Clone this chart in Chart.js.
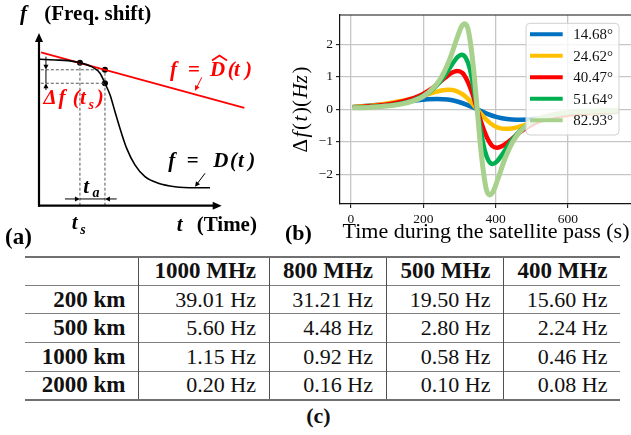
<!DOCTYPE html>
<html>
<head>
<meta charset="utf-8">
<script src="https://cdn.jsdelivr.net/npm/chart.js@4.4.1/dist/chart.umd.min.js"></script>
<style>
  html, body { margin: 0; padding: 0; background: #fff; }
  body { width: 631px; height: 435px; position: relative; overflow: hidden; font-family: "Liberation Serif", serif; color: #111; }
  #cvA { position: absolute; left: 0; top: 0; }
  #cvB { position: absolute; left: 280px; top: 0; }
  #tabla { position: absolute; left: 25px; top: 255.5px; width: 595px; border-collapse: collapse; table-layout: fixed; }
  #tabla td, #tabla th { height: 28.7px; padding: 0 12.5px 0 0; box-sizing: border-box; text-align: right; vertical-align: middle;
    font-size: 22px; line-height: 22px; white-space: nowrap; font-weight: normal; }
  #tabla th { font-weight: bold; font-size: 23px; }
  #tabla tr { border-bottom: 1.3px solid #808080; }
  #tabla tr:first-child { border-top: 2px solid #707070; }
  #tabla tr:last-child { border-bottom: 2px solid #707070; }
  #tabla tr > *:not(:first-child) { border-left: 1.3px solid #505050; }
  #etiquetaC { position: absolute; left: 0; width: 637px; top: 404.5px; text-align: center; font-weight: bold; font-size: 22px; line-height: 22px; }
</style>
</head>
<body>
<canvas id="cvA" width="280" height="250"></canvas>
<canvas id="cvB" width="360" height="250"></canvas>
<table id="tabla">
  <colgroup><col style="width:113.5px"><col style="width:130.5px"><col style="width:117px"><col style="width:117.5px"><col style="width:116.5px"></colgroup>
  <tbody id="cuerpo"></tbody>
</table>
<div id="etiquetaC">(c)</div>

<script>
// ===== Panel (a): curva D(t) y su aproximación lineal D̂(t) =====
const curvaT = [0.05, 0.88, 1.60, 2.24, 2.88, 3.34, 3.61, 3.89, 4.16, 4.49, 4.80, 5.25, 5.80, 6.53, 7.44, 8.54, 9.36];
const curvaF = [8.48, 8.44, 8.40, 8.28, 8.05, 7.67, 7.09, 6.41, 5.44, 4.28, 3.32, 2.36, 1.68, 1.30, 1.10, 1.04, 1.04];
const rectaT = [0.11, 11.24];
const rectaF = [8.88, 5.67];
// t_s, t_s + t_a  (puntos marcados)
const marcasT = [2.24, 3.61, 3.61];
const marcasF = [8.28, 7.87, 7.09];

// ===== Panel (b): Δf(t) durante el paso del satélite =====
const elevaciones = ['14.68°', '24.62°', '40.47°', '51.64°', '82.93°'];

const t1468 = [5, 107, 173, 211, 239, 267, 294, 321, 349, 377, 404, 431, 459, 487, 525, 591, 679, 740];
const df1468 = [0.07, 0.17, 0.265, 0.31, 0.32, 0.30, 0.24, 0.14, 0, -0.14, -0.24, -0.30, -0.32, -0.31, -0.265, -0.18, -0.107, -0.075];

const t2462 = [5, 60, 112, 175, 223, 250, 270, 290, 310, 329, 349, 369, 388, 408, 428, 448, 475, 523, 586, 640, 700, 740];
const df2462 = [0.07, 0.12, 0.20, 0.34, 0.50, 0.58, 0.60, 0.57, 0.45, 0.26, 0, -0.26, -0.45, -0.57, -0.60, -0.58, -0.50, -0.34, -0.20, -0.13, -0.083, -0.063];

const t4047 = [5, 70, 130, 184, 228, 261, 280, 294, 308, 321, 335, 349, 363, 377, 390, 404, 418, 437, 470, 514, 570, 630, 690, 740];
const df4047 = [0.06, 0.11, 0.21, 0.39, 0.68, 0.98, 1.13, 1.18, 1.12, 0.89, 0.50, 0, -0.50, -0.89, -1.12, -1.18, -1.13, -0.98, -0.68, -0.39, -0.21, -0.115, -0.068, -0.047];

const t5164 = [5, 60, 120, 170, 220, 254, 280, 295, 306, 317, 328, 338, 349, 360, 370, 381, 392, 403, 418, 444, 478, 530, 580, 640, 700, 740];
const df5164 = [0.05, 0.08, 0.145, 0.27, 0.56, 0.96, 1.39, 1.61, 1.68, 1.59, 1.27, 0.72, 0, -0.72, -1.27, -1.59, -1.68, -1.61, -1.39, -0.96, -0.56, -0.26, -0.145, -0.077, -0.045, -0.033];

const t8293 = [5, 50, 100, 150, 200, 244, 272, 293, 305, 314, 323, 331, 340, 349, 358, 367, 375, 384, 393, 405, 426, 454, 500, 550, 600, 650, 700, 740];
const df8293 = [0.045, 0.06, 0.10, 0.19, 0.40, 0.88, 1.51, 2.18, 2.53, 2.63, 2.49, 1.99, 1.12, 0, -1.12, -1.99, -2.49, -2.63, -2.53, -2.18, -1.51, -0.88, -0.38, -0.19, -0.10, -0.06, -0.04, -0.03];

const ticksTiempo = [0, 200, 400, 600];
const ticksDelta = [-2, -1, 0, 1, 2];

// ===== Panel (c): tabla de desplazamientos =====
const frecuencias = ['1000 MHz', '800 MHz', '500 MHz', '400 MHz'];
const altitudes = ['200 km', '500 km', '1000 km', '2000 km'];
const dopplerHz = [
  [39.01, 31.21, 19.50, 15.60],
  [5.60, 4.48, 2.80, 2.24],
  [1.15, 0.92, 0.58, 0.46],
  [0.20, 0.16, 0.10, 0.08]
];

const colores = ['#0070c0', '#ffc000', '#ff0000', '#00b050', '#a9d18e'];
const SERIF = '"Liberation Serif", serif';

// 📋 Tabla
(function armarTabla() {
  const cuerpo = document.getElementById('cuerpo');
  let html = '<tr><th></th>' + frecuencias.map(f => `<th>${f}</th>`).join('') + '</tr>';
  altitudes.forEach((alt, i) => {
    html += `<tr><th>${alt}</th>` + dopplerHz[i].map(v => `<td>${v.toFixed(2)} Hz</td>`).join('') + '</tr>';
  });
  cuerpo.innerHTML = html;
})();

// 🏹 Flecha con punta rellena
function flecha(ctx, x1, y1, x2, y2, largo, ancho, grosor, color) {
  const a = Math.atan2(y2 - y1, x2 - x1);
  const c = Math.cos(a), s = Math.sin(a);
  ctx.strokeStyle = color;
  ctx.fillStyle = color;
  ctx.lineWidth = grosor;
  ctx.beginPath();
  ctx.moveTo(x1, y1);
  ctx.lineTo(x2 - c * largo * 0.7, y2 - s * largo * 0.7);
  ctx.stroke();
  ctx.beginPath();
  ctx.moveTo(x2, y2);
  ctx.lineTo(x2 - c * largo - s * ancho, y2 - s * largo + c * ancho);
  ctx.lineTo(x2 - c * largo + s * ancho, y2 - s * largo - c * ancho);
  ctx.closePath();
  ctx.fill();
}

function texto(ctx, s, x, y, fuente, color) {
  ctx.font = fuente;
  ctx.fillStyle = color;
  ctx.fillText(s, x, y);
}

// ✏️ Ejes, flechas y rótulos del esquema (a)
const esquemaA = {
  id: 'esquemaA',
  afterDatasetsDraw(chart) {
    const ctx = chart.ctx;
    const X = v => chart.scales.x.getPixelForValue(v);
    const Y = v => chart.scales.y.getPixelForValue(v);
    const MAT = `bold italic 21px ${SERIF}`;
    const SUB = `bold italic 14px ${SERIF}`;
    const NEG = `bold 21px ${SERIF}`;
    const rojo = '#ff0000';
    ctx.save();
    ctx.textBaseline = 'alphabetic';
    ctx.textAlign = 'left';

    // ejes
    flecha(ctx, X(0), Y(0) + 1, X(0), Y(10), 9, 4, 2.2, '#000');
    flecha(ctx, X(0) - 1, Y(0), X(10), Y(0), 9, 4, 2.2, '#000');

    // Δf entre D̂ y D en t_s + t_a
    ctx.beginPath();
    ctx.strokeStyle = '#000';
    ctx.lineWidth = 1;
    ctx.moveTo(X(0.38), Y(marcasF[1]));
    ctx.lineTo(X(0.38), Y(marcasF[2]));
    ctx.stroke();
    flecha(ctx, X(0.38), Y(8.63), X(0.38), Y(marcasF[1]), 5, 2.5, 1, '#000');
    flecha(ctx, X(0.38), Y(6.70), X(0.38), Y(marcasF[2]), 5, 2.5, 1, '#000');

    // t_a
    ctx.beginPath();
    ctx.moveTo(X(marcasT[0]), Y(0.39));
    ctx.lineTo(X(marcasT[1]), Y(0.39));
    ctx.stroke();
    flecha(ctx, X(1.42), Y(0.39), X(marcasT[0]), Y(0.39), 5, 2.5, 1, '#000');
    flecha(ctx, X(4.25), Y(0.39), X(marcasT[1]), Y(0.39), 5, 2.5, 1, '#000');

    // indicadores de las curvas
    flecha(ctx, X(9.09), Y(1.88), X(8.54), Y(1.10), 5, 2.5, 1, '#000');
    flecha(ctx, X(8.91), Y(7.43), X(8.54), Y(6.66), 5, 2.5, 1, rojo);

    // rótulos de los ejes
    texto(ctx, 'f', X(-1.04), Y(10.75), MAT, '#000');
    texto(ctx, '(Freq. shift)', X(0.29), Y(10.75), NEG, '#000');
    texto(ctx, 't', X(7.54), Y(-1.45), MAT, '#000');
    texto(ctx, '(Time)', X(8.63), Y(-1.45), NEG, '#000');
    texto(ctx, '(a)', X(-1.86), Y(-2.22), `bold 23px ${SERIF}`, '#000');

    // f = D̂(t)
    let x0 = X(7.17), y0 = Y(7.51);
    texto(ctx, 'f', x0, y0, MAT, rojo);
    texto(ctx, '=', x0 + 18, y0, NEG, rojo);
    texto(ctx, 'D', x0 + 40, y0, MAT, rojo);
    ctx.beginPath();
    ctx.strokeStyle = rojo;
    ctx.lineWidth = 1.8;
    ctx.moveTo(x0 + 42, y0 - 15.5);
    ctx.lineTo(x0 + 49.5, y0 - 20.5);
    ctx.lineTo(x0 + 57, y0 - 15.5);
    ctx.stroke();
    texto(ctx, '(', x0 + 57.7, y0, MAT, rojo);
    texto(ctx, 't', x0 + 64, y0, MAT, rojo);
    texto(ctx, ')', x0 + 75, y0, MAT, rojo);

    // Δf(t_s)
    x0 = X(0.24); y0 = Y(5.89);
    texto(ctx, 'Δ', x0, y0, MAT, rojo);
    texto(ctx, 'f', x0 + 15, y0, MAT, rojo);
    texto(ctx, '(', x0 + 29.4, y0, MAT, rojo);
    texto(ctx, 't', x0 + 36.7, y0, MAT, rojo);
    texto(ctx, 's', x0 + 45, y0 + 5, SUB, rojo);
    texto(ctx, ')', x0 + 53.4, y0, MAT, rojo);

    // f = D(t)
    x0 = X(7.08); y0 = Y(2.26);
    texto(ctx, 'f', x0, y0, MAT, '#000');
    texto(ctx, '=', x0 + 18.4, y0, NEG, '#000');
    texto(ctx, 'D', x0 + 45, y0, MAT, '#000');
    texto(ctx, '(', x0 + 61.7, y0, MAT, '#000');
    texto(ctx, 't', x0 + 69.7, y0, MAT, '#000');
    texto(ctx, ')', x0 + 80, y0, MAT, '#000');

    // t_a y t_s
    x0 = X(2.42); y0 = Y(0.72);
    texto(ctx, 't', x0, y0, MAT, '#000');
    texto(ctx, 'a', x0 + 9.4, y0 + 4, SUB, '#000');
    x0 = X(1.79); y0 = Y(-1.35);
    texto(ctx, 't', x0, y0, MAT, '#000');
    texto(ctx, 's', x0 + 8.5, y0 + 5, SUB, '#000');

    ctx.restore();
  }
};

const punto = (t, f) => ({ x: t, y: f });
const guia = { showLine: true, borderColor: '#555', borderWidth: 1, borderDash: [3, 2], pointRadius: 0 };

new Chart(document.getElementById('cvA'), {
  type: 'scatter',
  data: {
    datasets: [
      { data: curvaT.map((t, i) => punto(t, curvaF[i])), showLine: true, borderColor: '#000', borderWidth: 1.6,
        pointRadius: 0, cubicInterpolationMode: 'monotone' },
      { data: rectaT.map((t, i) => punto(t, rectaF[i])), showLine: true, borderColor: '#ff0000', borderWidth: 1.8,
        pointRadius: 0, clip: false },
      { ...guia, data: [punto(marcasT[0], 0), punto(marcasT[0], marcasF[0])] },
      { ...guia, data: [punto(marcasT[1], 0), punto(marcasT[1], marcasF[1])] },
      { ...guia, data: [punto(0.1, marcasF[1]), punto(marcasT[1], marcasF[1])] },
      { ...guia, data: [punto(0.1, marcasF[2]), punto(marcasT[2], marcasF[2])] },
      { data: marcasT.map((t, i) => punto(t, marcasF[i])), pointRadius: 3, pointBackgroundColor: '#000',
        pointBorderColor: '#000', pointBorderWidth: 0 }
    ]
  },
  options: {
    responsive: false,
    animation: false,
    devicePixelRatio: 1,
    events: [],
    layout: { padding: { left: 39, top: 33, right: 58.3, bottom: 44.3 } },
    plugins: { legend: { display: false }, tooltip: { enabled: false } },
    scales: {
      x: { type: 'linear', min: 0, max: 10, display: false },
      y: { type: 'linear', min: 0, max: 10, display: false }
    }
  },
  plugins: [esquemaA]
});

// 🖼️ Marco superior, título del eje y, leyenda y rótulo (b)
const marcoB = {
  id: 'marcoB',
  afterDraw(chart) {
    const { ctx, chartArea: a } = chart;
    ctx.save();
    ctx.strokeStyle = '#111';
    ctx.lineWidth = 1.2;
    ctx.beginPath();
    ctx.moveTo(a.left, a.top);
    ctx.lineTo(a.right, a.top);
    ctx.lineTo(a.right, a.bottom);
    ctx.stroke();

    // Δf(t)(Hz) con letras de fórmula (cursiva solo en las variables)
    const partes = [['Δ', ''], ['f', 'italic '], ['(', ''], ['t', 'italic '], [')(', ''], ['Hz', 'italic '], [')', '']];
    const tam = 21, hueco = 1.6;
    let total = 0;
    partes.forEach(([s, estilo]) => { ctx.font = `${estilo}${tam}px ${SERIF}`; total += ctx.measureText(s).width + hueco; });
    total -= hueco;
    ctx.translate(21, (a.top + a.bottom) / 2);
    ctx.rotate(-Math.PI / 2);
    ctx.textBaseline = 'middle';
    ctx.textAlign = 'left';
    ctx.fillStyle = '#000';
    let px = -total / 2;
    partes.forEach(([s, estilo]) => {
      ctx.font = `${estilo}${tam}px ${SERIF}`;
      ctx.fillText(s, px, 0);
      px += ctx.measureText(s).width + hueco;
    });
    ctx.setTransform(1, 0, 0, 1, 0, 0);

    // leyenda
    const x0 = a.right - 106, y0 = a.top + 8.3, w = 93, h = 111.7, r = 4;
    ctx.beginPath();
    ctx.roundRect(x0, y0, w, h, r);
    ctx.fillStyle = 'rgba(255,255,255,0.8)';
    ctx.fill();
    ctx.strokeStyle = '#d0d0d0';
    ctx.lineWidth = 1;
    ctx.stroke();
    ctx.font = `15px ${SERIF}`;
    ctx.textBaseline = 'middle';
    ctx.textAlign = 'left';
    chart.data.datasets.forEach((ds, i) => {
      const y = y0 + 11 + i * 21.5;
      ctx.beginPath();
      ctx.strokeStyle = ds.borderColor;
      ctx.lineWidth = 4;
      ctx.moveTo(x0 + 4, y);
      ctx.lineTo(x0 + 36.7, y);
      ctx.stroke();
      ctx.fillStyle = '#111';
      ctx.fillText(ds.label, x0 + 47.3, y + 1);
    });

    ctx.font = `bold 22px ${SERIF}`;
    ctx.textBaseline = 'alphabetic';
    ctx.fillStyle = '#000';
    ctx.fillText('(b)', 5, 240);
    ctx.restore();
  }
};

const series = [[t1468, df1468], [t2462, df2462], [t4047, df4047], [t5164, df5164], [t8293, df8293]];

new Chart(document.getElementById('cvB'), {
  type: 'line',
  data: {
    datasets: series.map(([t, d], i) => ({
      label: elevaciones[i],
      data: t.map((x, k) => ({ x: x, y: d[k] })),
      borderColor: colores[i],
      borderWidth: i === 4 ? 5 : 4.5,
      pointRadius: 0,
      fill: false,
      cubicInterpolationMode: 'monotone',
      order: series.length - i
    }))
  },
  options: {
    responsive: false,
    animation: false,
    devicePixelRatio: 1,
    events: [],
    layout: { padding: { left: 0, top: 15, right: 8, bottom: 0 } },
    plugins: { legend: { display: false }, tooltip: { enabled: false } },
    scales: {
      x: {
        type: 'linear', min: -30.4, max: 777,
        afterBuildTicks: ax => { ax.ticks = ticksTiempo.map(v => ({ value: v })); },
        afterFit: ax => { ax.height = 46; },
        grid: { color: '#c6c6c6', lineWidth: 1.3, tickColor: '#000', tickLength: 4, tickWidth: 1 },
        border: { display: true, color: '#111', width: 1.2 },
        ticks: { color: '#111', font: { family: SERIF, size: 13.5 }, padding: 3, maxRotation: 0 },
        title: { display: true, text: 'Time during the satellite pass (s)', color: '#000',
          font: { family: SERIF, size: 22 }, padding: { top: 0, bottom: 5 } }
      },
      y: {
        type: 'linear', min: -2.91, max: 2.90,
        afterBuildTicks: ax => { ax.ticks = ticksDelta.map(v => ({ value: v })); },
        afterFit: ax => { ax.width = 60; },
        grid: { color: '#c6c6c6', lineWidth: 1.3, tickColor: '#000', tickLength: 4, tickWidth: 1 },
        border: { display: true, color: '#111', width: 1.2 },
        ticks: { color: '#111', font: { family: SERIF, size: 13.5 }, padding: 3,
          callback: v => (v < 0 ? '\u2212' + Math.abs(v) : String(v)) }
      }
    }
  },
  plugins: [marcoB]
});
</script>
</body>
</html>
